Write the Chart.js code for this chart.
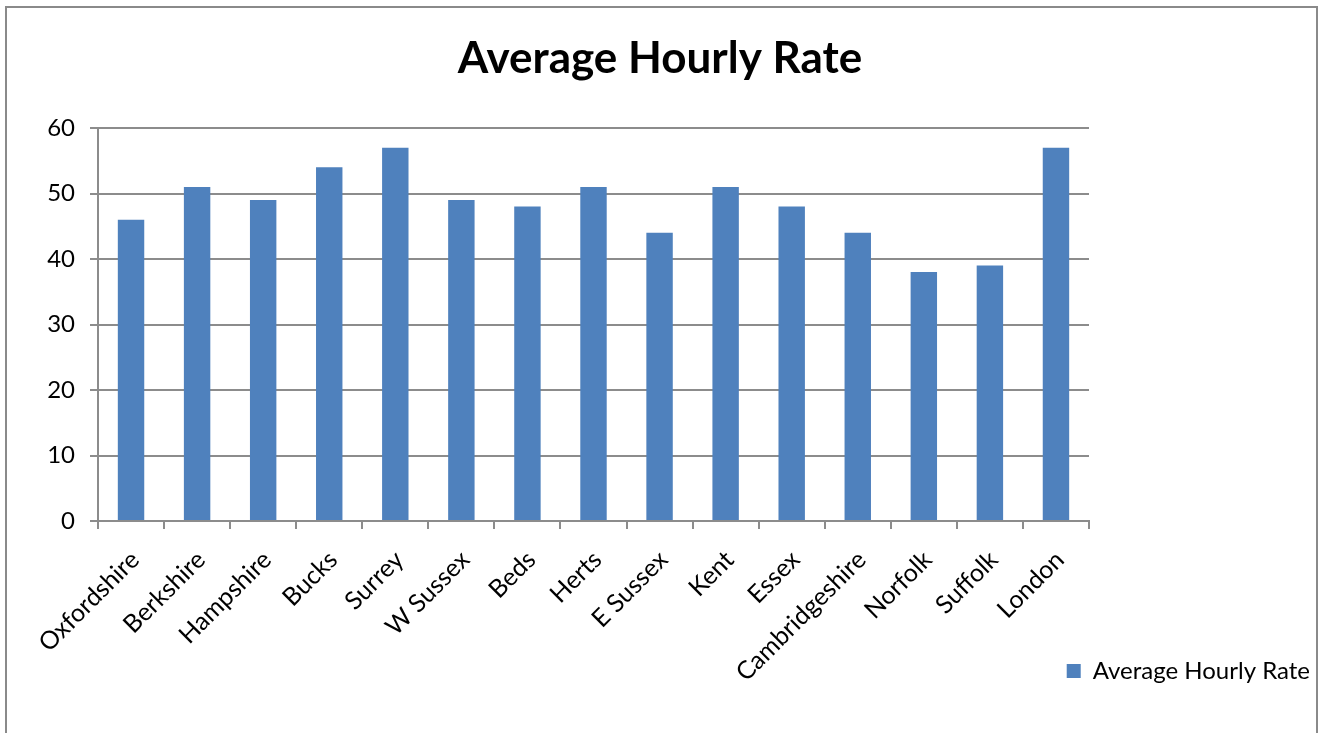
<!DOCTYPE html>
<html>
<head>
<meta charset="utf-8">
<script src="https://cdn.jsdelivr.net/npm/chart.js@4.4.1/dist/chart.umd.min.js"></script>
<style>
  html, body { margin: 0; padding: 0; background: #fff; overflow: hidden; }
  #wrap { position: absolute; left: 0; top: 0; width: 1320px; height: 733px; }
  #frame { position: absolute; left: 5px; top: 6px; width: 1313px; height: 800px; box-sizing: border-box; border: 2px solid #8a8a8a; pointer-events: none; }
</style>
</head>
<body>
<div id="wrap"><canvas id="c" width="1320" height="733"></canvas></div>
<div id="frame"></div>
<script>
const categories = ["Oxfordshire","Berkshire","Hampshire","Bucks","Surrey","W Sussex","Beds","Herts","E Sussex","Kent","Essex","Cambridgeshire","Norfolk","Suffolk","London"];
const hourlyRate = [46, 51, 49, 54, 57, 49, 48, 51, 44, 51, 48, 44, 38, 39, 57];
const seriesName = "Average Hourly Rate";
const chartTitle = "Average Hourly Rate";
const yTicks = [0, 10, 20, 30, 40, 50, 60];

const FONT = "Lato";
const GRID = "#8c8c8c";
const PLOT_LEFT = 98, PLOT_RIGHT = 1089, PLOT_BOTTOM = 521;
const BOTTOM_PAD = 40;

// let x-axis labels run past the scale box (so long rotated labels are not clipped)
const unclipLabels = {
  id: 'unclipLabels',
  afterLayout(chart) {
    chart.scales.x.bottom = chart.height;
  }
};

new Chart(document.getElementById('c'), {
  type: 'bar',
  data: {
    labels: categories,
    datasets: [{
      label: seriesName,
      data: hourlyRate,
      backgroundColor: '#4F81BD',
      borderWidth: 0,
      categoryPercentage: 1.0,
      barPercentage: 0.4
    }]
  },
  plugins: [unclipLabels],
  options: {
    responsive: false,
    animation: false,
    devicePixelRatio: 1,
    layout: { padding: { left: 0, right: 0, top: 0, bottom: BOTTOM_PAD } },
    plugins: {
      title: {
        display: true,
        text: chartTitle,
        color: '#000',
        font: { family: FONT, size: 44, weight: 'bold', lineHeight: 1.2 },
        padding: { top: 32, bottom: 43.2 }
      },
      legend: {
        display: true,
        position: 'bottom',
        align: 'end',
        labels: {
          color: '#000',
          font: { family: FONT, size: 24 },
          boxWidth: 14,
          boxHeight: 14,
          padding: 10
        }
      },
      tooltip: { enabled: false }
    },
    scales: {
      x: {
        grid: { display: true, drawOnChartArea: false, drawTicks: true, tickLength: 8, color: GRID, lineWidth: 2, offset: true },
        border: { display: true, color: GRID, width: 2 },
        ticks: {
          color: '#000',
          font: { family: FONT, size: 25 },
          maxRotation: 45, minRotation: 45,
          autoSkip: false,
          padding: 16,
          labelOffset: 4
        },
        afterFit: function(scale) {
          const ch = scale.chart;
          const lh = ch.legend ? ch.legend.height : 0;
          scale.height = ch.height - BOTTOM_PAD - lh - PLOT_BOTTOM;
        }
      },
      y: {
        min: 0, max: 60,
        afterBuildTicks: function(scale) { scale.ticks = yTicks.map(v => ({ value: v })); },
        grid: { color: GRID, lineWidth: 2, tickLength: 8, drawTicks: true },
        border: { display: true, color: GRID, width: 2 },
        ticks: {
          color: '#000',
          font: { family: FONT, size: 24 },
          padding: 15
        },
        afterFit: function(scale) { scale.width = PLOT_LEFT; }
      },
      yRight: {
        type: 'linear',
        position: 'right',
        display: true,
        grid: { display: false, drawTicks: false },
        border: { display: false },
        ticks: { display: false },
        afterFit: function(scale) { scale.width = 1320 - PLOT_RIGHT; }
      }
    }
  }
});
</script>
</body>
</html>
